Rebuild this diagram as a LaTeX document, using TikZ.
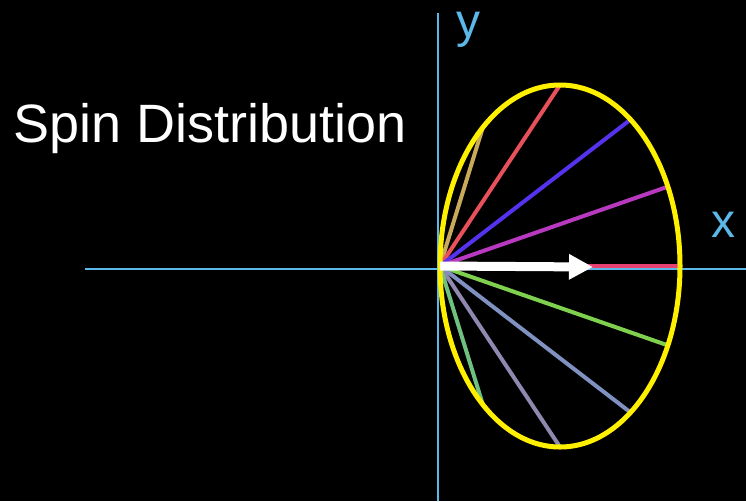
\documentclass[tikz,border=0pt]{standalone}
\usepackage{fontspec}
\setmainfont{Liberation Sans}
\usetikzlibrary{arrows.meta,positioning}
\definecolor{axisblue}{HTML}{5BB8E8}
\definecolor{spinyellow}{HTML}{FFF000}
\definecolor{sA}{HTML}{C8AA5A}
\definecolor{sB}{HTML}{E8505A}
\definecolor{sC}{HTML}{5533EE}
\definecolor{sD}{HTML}{B838C0}
\definecolor{sE}{HTML}{E84070}
\definecolor{sF}{HTML}{80D050}
\definecolor{sG}{HTML}{8090C0}
\definecolor{sH}{HTML}{9088B0}
\definecolor{sI}{HTML}{70C080}
\tikzset{
  axisline/.style={axisblue,line width=2pt},
  spoke/.style={line width=4pt},
  axislabel/.style={text=axisblue,font=\fontsize{48}{48}\selectfont,inner sep=0pt}
}
\begin{document}
\begin{tikzpicture}[x=1pt,y=-1pt]
  \fill[black] (0,0) rectangle (746,501);
  \useasboundingbox (0,0) rectangle (746,501);
  % axes
  \coordinate (xl) at (85,269);
  \coordinate (xr) at (746,269);
  \coordinate (yt) at (438,13);
  \coordinate (yb) at (438,501);
  \draw[axisline] (xl) -- (xr);
  \draw[axisline] (yt) -- (yb);
  \node[axislabel,anchor=base west] (ylab) at (456,37) {y};
  \node[axislabel,anchor=base west] (xlab) at (711,237) {x};
  \node[text=white,font=\fontsize{54}{54}\selectfont,anchor=base west,inner sep=0pt] (title) at (13,142) {Spin Distribution};
  % spokes
  \coordinate (O) at (440,266);
  \foreach \t/\c [count=\i] in {130/sA,90/sB,54/sC,26/sD,0/sE,-26/sF,-54/sG,-90/sH,-130/sI}{
    \coordinate (s\i) at ({560+120*cos(\t)},{266-181*sin(\t)});
    \draw[spoke,\c] (O) -- (s\i);
  }
  \draw[spinyellow,line width=5pt] (560,266) ellipse [x radius=120,y radius=181];
  \coordinate (tip) at (593,267);
  \draw[white,line width=9pt,-{Triangle[length=24pt,width=24pt]}] (O) -- (tip);
\end{tikzpicture}
\end{document}
